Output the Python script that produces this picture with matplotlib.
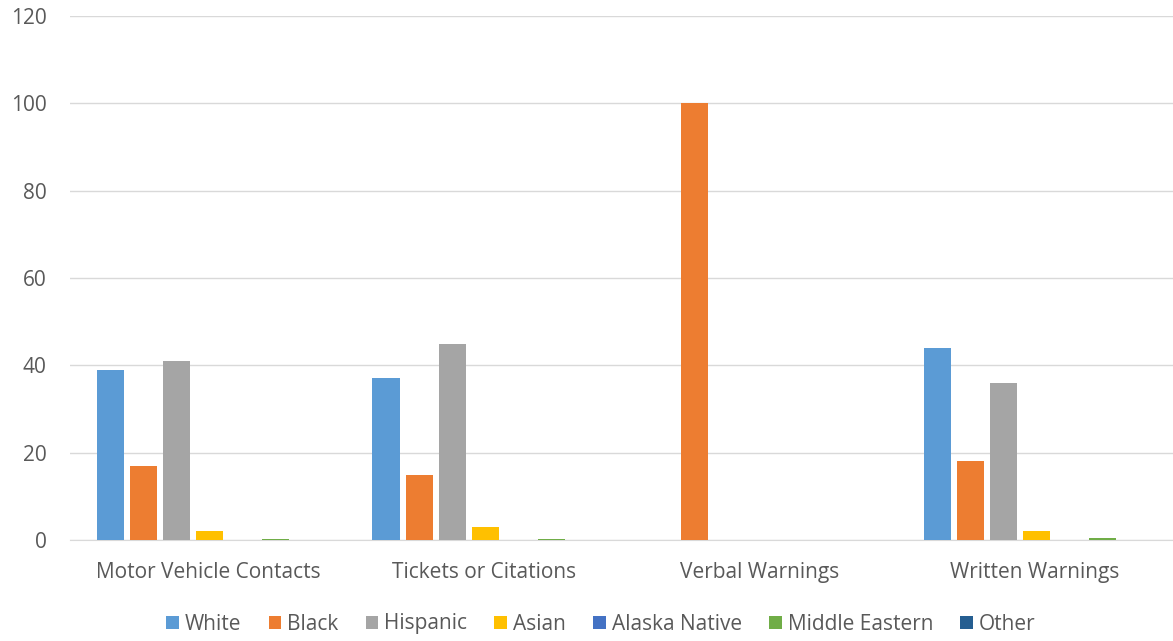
import numpy as np
import matplotlib
matplotlib.use("Agg")
import matplotlib.pyplot as plt

categories = ["Motor Vehicle Contacts", "Tickets or Citations", "Verbal Warnings", "Written Warnings"]
series = ["White", "Black", "Hispanic", "Asian", "Alaska Native", "Middle Eastern", "Other"]
white = [39, 37, 0, 44]
black = [17, 15, 100, 18]
hispanic = [41, 45, 0, 36]
asian = [2, 3, 0, 2]
alaska_native = [0, 0, 0, 0]
middle_eastern = [0.2, 0.2, 0, 0.4]
other = [0, 0, 0, 0]
colors = ["#5B9BD5", "#ED7D31", "#A5A5A5", "#FFC000", "#4472C4", "#70AD47", "#255E91"]

values = [white, black, hispanic, asian, alaska_native, middle_eastern, other]

plt.rcParams['font.family'] = ['Open Sans', 'DejaVu Sans']

fig = plt.figure(figsize=(11.73, 6.41), dpi=100)
ax = fig.add_axes([70 / 1173, 101 / 641, 1 - 70 / 1173, 524 / 641])

x = np.arange(len(categories))
step = 0.12
width = 0.098
for i, (name, vals) in enumerate(zip(series, values)):
    ax.bar(x + (i - 3) * step + 0.006, vals, width, color=colors[i], label=name, zorder=3)

ax.set_xlim(-0.5, 3.5)
ax.set_ylim(0, 120)
ax.set_yticks(range(0, 121, 20))
ax.yaxis.grid(True, color="#D9D9D9", linewidth=1, zorder=0)
ax.set_xticks(x)
ax.set_xticklabels(categories)
ax.tick_params(axis="both", length=0, labelsize=15, colors="#595959")
ax.tick_params(axis="x", pad=16)
ax.tick_params(axis="y", pad=17)
for s in ["top", "right", "left"]:
    ax.spines[s].set_visible(False)
ax.spines["bottom"].set_color("#D9D9D9")

leg = fig.legend(loc="center", bbox_to_anchor=(601 / 1173, 1 - 624 / 641), ncol=7, frameon=False,
                 fontsize=15, handlelength=0.6, handleheight=0.6, handletextpad=0.3, columnspacing=1.3)
for t in leg.get_texts():
    t.set_color("#595959")

fig.savefig("out.png", dpi=100)
